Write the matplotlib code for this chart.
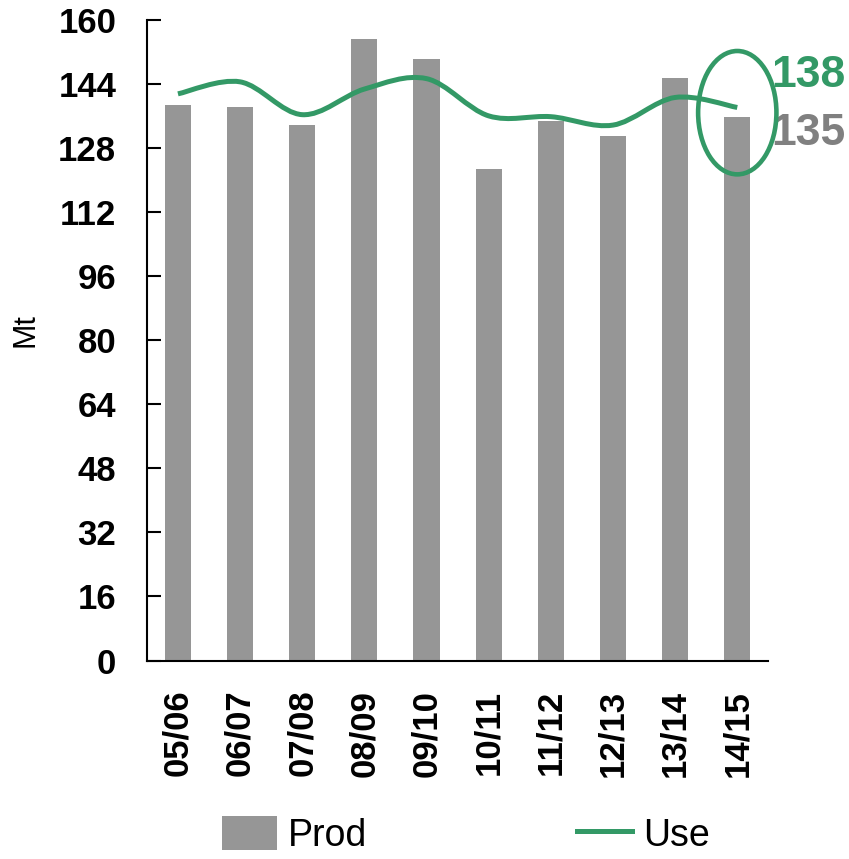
import matplotlib.pyplot as plt
import numpy as np
from matplotlib.path import Path
from matplotlib.patches import PathPatch, Ellipse
from matplotlib.lines import Line2D
from matplotlib.patches import Patch

plt.rcParams['font.family'] = ['Liberation Sans', 'DejaVu Sans']

# Verileri
seasons = ['05/06', '06/07', '07/08', '08/09', '09/10',
           '10/11', '11/12', '12/13', '13/14', '14/15']
prod = [138.7, 138.2, 133.7, 155.2, 150.2, 122.7, 134.7, 131.0, 145.4, 135.6]
use = [141.5, 144.5, 136.3, 142.7, 145.3, 136.0, 135.8, 133.7, 140.6, 138.1]
yticks = list(range(0, 161, 16))

gray = '#969696'
green = '#339966'


def smoothPath(xs, ys, t=1 / 6):
    # Catmull-Rom -> Bezier (Excel tarzı yumuşak çizgi)
    pts = list(zip(xs, ys))
    verts = [pts[0]]
    codes = [Path.MOVETO]
    n = len(pts)
    for i in range(n - 1):
        p0 = pts[max(i - 1, 0)]
        p1 = pts[i]
        p2 = pts[i + 1]
        p3 = pts[min(i + 2, n - 1)]
        c1 = (p1[0] + (p2[0] - p0[0]) * t, p1[1] + (p2[1] - p0[1]) * t)
        c2 = (p2[0] - (p3[0] - p1[0]) * t, p2[1] - (p3[1] - p1[1]) * t)
        verts += [c1, c2, p2]
        codes += [Path.CURVE4] * 3
    return Path(verts, codes)


fig = plt.figure(figsize=(8.49, 8.59), dpi=100)
ax = fig.add_axes([0.173, 0.231, 0.732, 0.746])

x = np.arange(len(seasons))
ax.bar(x, prod, width=0.42, color=gray, zorder=2)

ax.add_patch(PathPatch(smoothPath(x, use), facecolor='none', edgecolor=green,
                       lw=3.6, capstyle='butt', zorder=3))

# Son sezon vurgusu
ax.add_patch(Ellipse((9, 136.8), 1.26, 30.8, facecolor='none',
                     edgecolor=green, lw=3.3, zorder=4, clip_on=False))
ax.text(9.55, 146, f'{use[-1]:.0f}', color=green, fontsize=32,
        fontweight='bold', ha='left', va='center', clip_on=False)
ax.text(9.55, 131.5, f'{int(prod[-1])}', color='#808080', fontsize=32,
        fontweight='bold', ha='left', va='center', clip_on=False)

ax.set_xlim(-0.5, 9.5)
ax.set_ylim(0, 160)
ax.set_yticks(yticks)
ax.set_xticks(x)
ax.set_xticklabels(seasons, rotation=90, fontsize=25, fontweight='bold')
ax.tick_params(axis='y', direction='in', length=10, width=1.5,
               labelsize=25, pad=22)
for lb in ax.get_yticklabels():
    lb.set_fontweight('bold')
ax.tick_params(axis='x', length=0, pad=21)

for s in ['top', 'right']:
    ax.spines[s].set_visible(False)
for s in ['left', 'bottom']:
    ax.spines[s].set_linewidth(1.5)

ax.set_ylabel('Mt', fontsize=22, va='center')
ax.yaxis.set_label_coords(-0.196, 0.516)

handles = [Patch(facecolor=gray, edgecolor='none'),
           Line2D([0], [0], color=green, lw=3.6)]
fig.legend(handles, ['Prod', 'Use'], loc='lower center', ncol=2,
           bbox_to_anchor=(0.549, -0.033), frameon=False, fontsize=27,
           handlelength=1.45, handleheight=1.0, columnspacing=5.6,
           handletextpad=0.3)

plt.savefig('out.png', dpi=100)
